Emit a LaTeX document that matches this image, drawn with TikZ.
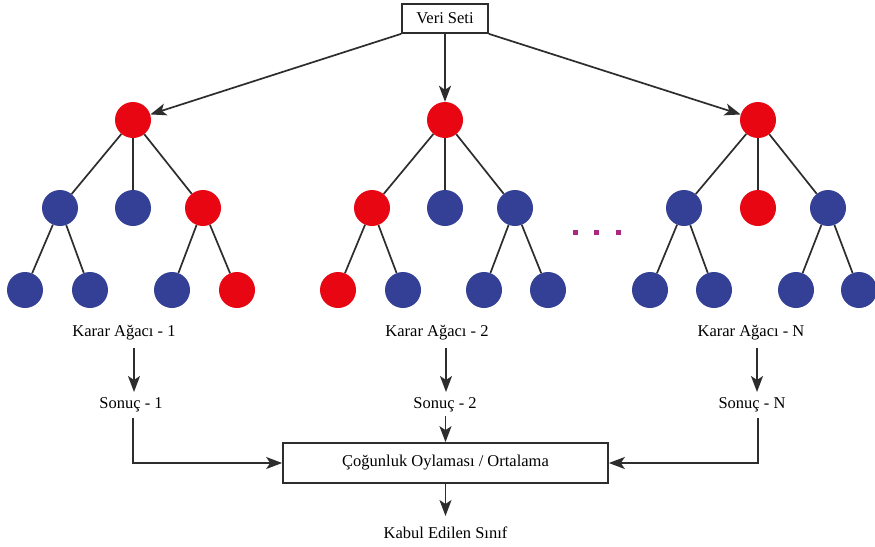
\documentclass[tikz,border=0pt]{standalone}
\usepackage{fontspec}
\setmainfont{Liberation Serif}
\usetikzlibrary{arrows.meta}
\definecolor{nred}{RGB}{232,6,18}
\definecolor{nblue}{RGB}{52,64,150}
\definecolor{lin}{RGB}{45,45,45}
\definecolor{dotc}{RGB}{170,40,130}
\tikzset{
  rn/.style={circle,fill=nred,inner sep=0pt,minimum size=36pt},
  bn/.style={circle,fill=nblue,inner sep=0pt,minimum size=36pt},
  edge/.style={draw=lin,line width=1.7pt},
  arr/.style={draw=lin,line width=1.7pt,-{Stealth[length=16pt,width=12pt,inset=4pt]}},
  lbl/.style={inner sep=0pt,font=\fontsize{16.5}{20}\selectfont},
  boxn/.style={draw=lin,line width=1.7pt,inner sep=0pt,font=\fontsize{16.5}{20}\selectfont},
  dotn/.style={fill=dotc,inner sep=0pt,minimum size=5pt}
}
\begin{document}
\begin{tikzpicture}[x=1pt,y=-1pt]
\useasboundingbox (0,0) rectangle (875,546);
\fill[white] (0,0) rectangle (875,546);
% top box
\node[boxn,minimum width=86pt,minimum height=29pt] (veri) at (445,18.5) {Veri Seti};
% tree 1
\node[rn] (a0) at (133,120) {};
\node[bn] (a1) at (60,208) {};
\node[bn] (a2) at (133,208) {};
\node[rn] (a3) at (203,208) {};
\node[bn] (a11) at (25,290) {};
\node[bn] (a12) at (90,290) {};
\node[bn] (a31) at (172,290) {};
\node[rn] (a32) at (237,290) {};
% tree 2
\node[rn] (b0) at (445,120) {};
\node[rn] (b1) at (372,208) {};
\node[bn] (b2) at (445,208) {};
\node[bn] (b3) at (515,208) {};
\node[rn] (b11) at (338,290) {};
\node[bn] (b12) at (403,290) {};
\node[bn] (b31) at (484,290) {};
\node[bn] (b32) at (548,290) {};
% tree 3
\node[rn] (c0) at (758,120) {};
\node[bn] (c1) at (684,208) {};
\node[rn] (c2) at (758,208) {};
\node[bn] (c3) at (828,208) {};
\node[bn] (c11) at (650,290) {};
\node[bn] (c12) at (714,290) {};
\node[bn] (c31) at (796,290) {};
\node[bn] (c32) at (859,290) {};
% tree edges
\foreach \t in {a,b,c}{
  \draw[edge] (\t0) -- (\t1);
  \draw[edge] (\t0) -- (\t2);
  \draw[edge] (\t0) -- (\t3);
  \draw[edge] (\t1) -- (\t11);
  \draw[edge] (\t1) -- (\t12);
  \draw[edge] (\t3) -- (\t31);
  \draw[edge] (\t3) -- (\t32);
}
% dots
\node[dotn] (d1) at (575,232) {};
\node[dotn] (d2) at (596,232) {};
\node[dotn] (d3) at (618,232) {};
% arrows from data set
\draw[arr] (veri.south west) -- (a0);
\draw[arr] (veri.south) -- (b0);
\draw[arr] (veri.south east) -- (c0);
% labels
\node[lbl] (ka) at (124,333) {Karar Ağacı - 1};
\node[lbl] (kb) at (437,333) {Karar Ağacı - 2};
\node[lbl] (kc) at (751,333) {Karar Ağacı - N};
\node[lbl] (sa) at (131,405) {Sonuç - 1};
\node[lbl] (sb) at (445,405) {Sonuç - 2};
\node[lbl] (sc) at (752,405) {Sonuç - N};
\coordinate (ka1) at (134,348);
\coordinate (ka2) at (134,392);
\coordinate (kb1) at (446,348);
\coordinate (kb2) at (446,392);
\coordinate (kc1) at (757,348);
\coordinate (kc2) at (757,392);
\draw[arr] (ka1) -- (ka2);
\draw[arr] (kb1) -- (kb2);
\draw[arr] (kc1) -- (kc2);
% vote box
\node[boxn,minimum width=325pt,minimum height=40pt] (vote) at (445.5,463) {Çoğunluk Oylaması / Ortalama};
\coordinate (sa1) at (133,418);
\coordinate (sb1) at (445.5,416);
\coordinate (sc1) at (758,418);
\draw[arr] (sa1) |- (vote.west);
\draw[arr] (sc1) |- (vote.east);
\draw[arr] (sb1) -- (vote.north);
\node[lbl] (kabul) at (445.5,533) {Kabul Edilen Sınıf};
\coordinate (vb) at (445.5,516);
\draw[arr] (vote.south) -- (vb);
\end{tikzpicture}
\end{document}
